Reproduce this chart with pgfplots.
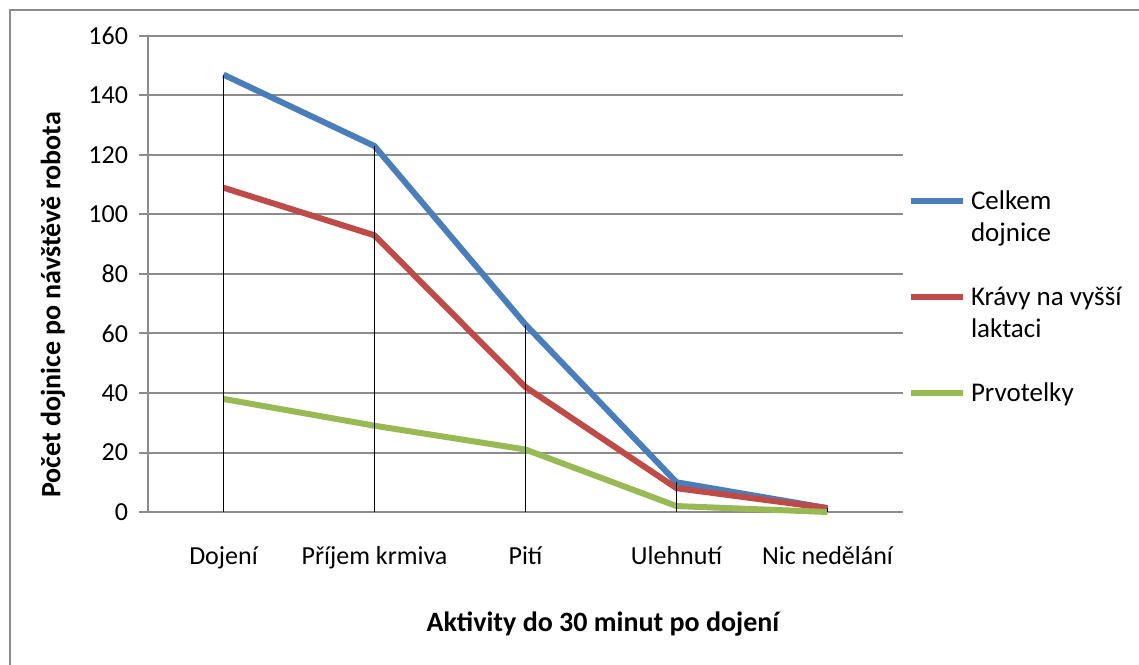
\documentclass[border=0pt]{standalone}
\usepackage{fontspec}
\setmainfont{Carlito}
\usepackage{pgfplots}
\pgfplotsset{compat=1.18}
\definecolor{sblue}{HTML}{4A7EBB}
\definecolor{sred}{HTML}{BE4B48}
\definecolor{sgreen}{HTML}{98B954}
\definecolor{gridgray}{HTML}{8C8C8C}
\begin{document}
\begin{tikzpicture}[font=\fontsize{13}{15.5}\selectfont]
\useasboundingbox (0,0) rectangle (569.5pt,332pt);
\draw[gridgray, line width=1pt] (5pt,-2pt) -- (5pt,327pt) -- (572pt,327pt);
\begin{axis}[
  at={(74pt,76pt)}, anchor=south west,
  scale only axis, width=377.5pt, height=238pt,
  xmin=-0.5, xmax=4.5, ymin=0, ymax=160,
  xtick={0,1,2,3,4},
  xticklabels={Dojení, Příjem krmiva, Pití, Ulehnutí, Nic nedělání},
  ytick={0,20,...,160},
  /pgf/number format/assume math mode=true,
  axis x line*=bottom, axis y line*=left,
  axis line style={gridgray, line width=1pt},
  ymajorgrids, grid style={gridgray, line width=1pt},
  tick align=outside, major tick length=4.5pt,
  xtick style={draw=none},
  ytick style={gridgray, line width=1pt},
  yticklabel style={xshift=-2pt},
  xticklabel style={anchor=base, yshift=-21.5pt},
  every axis x label/.style={at={(rel axis cs:0.6026,0)}, anchor=base, yshift=-59.8pt, font=\fontsize{14}{16}\selectfont\bfseries},
  every axis y label/.style={at={(rel axis cs:-0.1258,0.435)}, rotate=90, anchor=center, font=\fontsize{14}{16}\selectfont\bfseries},
  xlabel={Aktivity do 30 minut po dojení},
  ylabel={Počet dojnice po návštěvě robota},
  legend cell align=left,
  legend image code/.code={\draw[#1] (0pt,0pt) -- (26pt,0pt);},
  legend style={draw=none, fill=none, inner sep=0pt, outer sep=0pt,
    at={(1,0.6866)}, anchor=north west, xshift=2.5pt,
    row sep=0pt, font=\fontsize{13.5}{16}\selectfont,
    nodes={inner sep=0pt, text height=12pt, text depth=4pt},
    /tikz/every odd column/.append style={column sep=2.5pt}},
  clip=false,
]
\addplot[sblue, line width=3pt] coordinates {(0,147) (1,123) (2,63) (3,10) (4,1.3)};
\addlegendentry{Celkem}
\addlegendimage{empty legend}\addlegendentry{dojnice}
\addlegendimage{empty legend}\addlegendentry{}
\addplot[sred, line width=3pt] coordinates {(0,109) (1,93) (2,42) (3,8) (4,1.3)};
\addlegendentry{Krávy na vyšší}
\addlegendimage{empty legend}\addlegendentry{laktaci}
\addlegendimage{empty legend}\addlegendentry{}
\addplot[sgreen, line width=3pt] coordinates {(0,38) (1,29) (2,21) (3,2) (4,0)};
\addlegendentry{Prvotelky}
\addplot[ycomb, black, line width=0.9pt, forget plot] coordinates {(0,147) (1,123) (2,63) (3,10) (4,1.3)};
\end{axis}
\end{tikzpicture}
\end{document}
